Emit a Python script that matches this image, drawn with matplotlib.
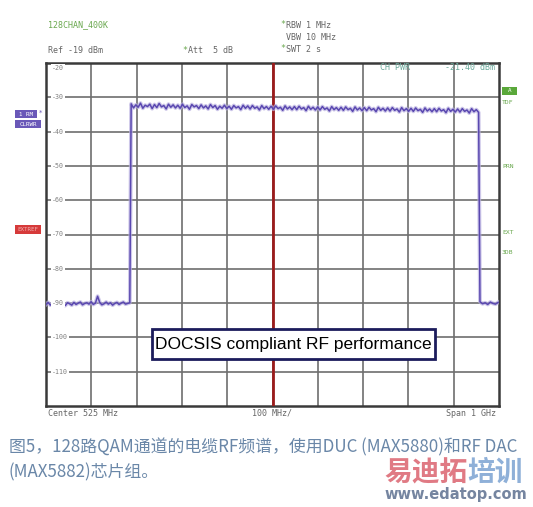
import numpy as np
import matplotlib
matplotlib.use("Agg")
import matplotlib.pyplot as plt
from matplotlib.patches import Rectangle

W, H = 533, 507

# ---- data (spectrum analyzer trace, dBm) ----
span_start_mhz, span_stop_mhz = 25, 1025
center_mhz = 525
y_min, y_max = -120, -20
y_tick_labels = [-20, -30, -40, -50, -60, -70, -80, -90, -100, -110]

lower_floor_range = (25, 210)
lower_floor_dbm = [-90.4, -89.8, -90.6, -90.1, -89.7, -90.5, -90.0, -89.6, -90.3, -90.7,
                   -89.9, -90.2, -90.6, -89.8, -90.4, -90.0, -89.7, -90.5, -90.1, -89.9,
                   -90.3, -89.6, -90.4, -90.0, -88.0, -89.8, -90.5, -90.2, -89.7, -90.3,
                   -89.9, -90.6, -90.1, -89.8, -90.4, -90.0, -89.7, -90.3, -90.1, -89.9]

plateau_range = (213, 980)
plateau_dbm = [
    -31.9, -33.1, -32.2, -32.9, -31.7, -33.2, -32.3, -32.7, -32.0, -33.3,
    -32.1, -33.0, -31.8, -32.8, -32.4, -33.4, -32.0, -32.9, -32.2, -33.1,
    -32.3, -33.2, -32.0, -33.0, -32.5, -33.5, -32.1, -32.8, -32.4, -33.3,
    -32.2, -33.1, -32.5, -33.4, -32.1, -33.0, -32.4, -33.5, -32.6, -33.2,
    -32.3, -33.3, -32.6, -33.5, -32.4, -33.1, -32.7, -33.6, -32.3, -33.2,
    -32.5, -33.4, -32.4, -33.2, -32.8, -33.7, -32.4, -33.3, -32.7, -33.5,
    -32.6, -33.5, -32.5, -33.3, -32.9, -33.8, -32.5, -33.4, -32.8, -33.6,
    -32.7, -33.6, -32.6, -33.4, -33.0, -33.9, -32.6, -33.5, -32.9, -33.7,
    -32.8, -33.7, -32.7, -33.5, -33.1, -34.0, -32.7, -33.6, -33.0, -33.8,
    -32.9, -33.8, -32.8, -33.6, -33.2, -34.1, -32.8, -33.7, -33.1, -33.9,
    -33.0, -33.9, -32.9, -33.7, -33.3, -34.2, -32.9, -33.8, -33.2, -34.0,
    -33.1, -34.0, -33.0, -33.8, -33.4, -34.3, -33.0, -33.9, -33.3, -34.1,
    -33.2, -34.1, -33.1, -33.9, -33.5, -34.4, -33.1, -34.0, -33.4, -34.2,
    -33.3, -34.2, -33.2, -34.0, -33.6, -34.5, -33.2, -34.1, -33.5, -34.3,
    -33.4, -34.3, -33.3, -34.1, -33.7, -34.6, -33.3, -34.2, -33.6, -34.4]

upper_floor_range = (983, 1023)
upper_floor_dbm = [-89.6, -90.2, -89.9, -90.4, -89.7, -90.1, -90.3, -89.8]

# ---- assemble trace ----
freq = np.concatenate([
    np.linspace(*lower_floor_range, len(lower_floor_dbm)),
    np.linspace(*plateau_range, len(plateau_dbm)),
    np.linspace(*upper_floor_range, len(upper_floor_dbm))])
level = np.concatenate([lower_floor_dbm, plateau_dbm, upper_floor_dbm])

fig = plt.figure(figsize=(W / 100, H / 100), dpi=100)
fig.patch.set_facecolor("white")

L, R, T, B = 46, 499, 63, 406
ax = fig.add_axes([L / W, 1 - B / H, (R - L) / W, (B - T) / H])
ax.set_xlim(span_start_mhz, span_stop_mhz)
ax.set_ylim(y_min, y_max)
ax.set_xticks(np.arange(span_start_mhz + 100, span_stop_mhz, 100))
ax.set_yticks(y_tick_labels[1:])
ax.tick_params(length=0, labelleft=False, labelbottom=False)
ax.grid(True, color="#6e6e6e", linewidth=1.2)
for s in ax.spines.values():
    s.set_color("#3a3a3a")
    s.set_linewidth(1.8)
ax.axvline(center_mhz, color="#9b1b1b", linewidth=2.0, zorder=3)

# trace with a faint halo
ax.plot(freq, level, color="#b9b0e0", linewidth=2.8, zorder=4, alpha=0.7)
ax.plot(freq, level, color="#5a48b0", linewidth=1.1, zorder=5)

# inside y labels
for v in y_tick_labels:
    va = "top" if v == y_max else "center"
    yy = v - 0.6 if v == y_max else v
    ax.text(0.013, yy, str(v), transform=ax.get_yaxis_transform(),
            fontsize=4.8, color="#808080", family="DejaVu Sans Mono", va=va, ha="left",
            bbox=dict(facecolor="white", edgecolor="none", pad=0.6), zorder=6)


def ftext(x, y, s, **kw):
    fig.text(x / W, 1 - y / H, s, **kw)


mono = dict(family="DejaVu Sans Mono", fontsize=6.0, va="center")
ftext(48, 25, "128CHAN_400K", color="#6aa84f", **mono)
ftext(48, 50, "Ref -19 dBm", color="#666666", **mono)
ftext(182, 50, "*", color="#6aa84f", **mono)
ftext(188, 50, "Att  5 dB", color="#666666", **mono)
ftext(280, 25, "*", color="#6aa84f", **mono)
ftext(286, 25, "RBW 1 MHz", color="#666666", **mono)
ftext(286, 37, "VBW 10 MHz", color="#666666", **mono)
ftext(280, 49, "*", color="#6aa84f", **mono)
ftext(286, 49, "SWT 2 s", color="#666666", **mono)
ftext(380, 67, "CH PWR", color="#6aa89a", **mono)
ftext(495, 67, "-21.40 dBm", color="#6aa89a", ha="right", **mono)
ftext(48, 414, "Center 525 MHz", color="#666666", **mono)
ftext(272, 413, "100 MHz/", color="#666666", ha="center", **mono)
ftext(496, 413, "Span 1 GHz", color="#666666", ha="right", **mono)


def fbox(x0, y0, x1, y1, color, label, tcolor="white"):
    fig.add_artist(Rectangle((x0 / W, 1 - y1 / H), (x1 - x0) / W, (y1 - y0) / H,
                             transform=fig.transFigure, facecolor=color, edgecolor="none"))
    fig.text((x0 + x1) / 2 / W, 1 - (y0 + y1) / 2 / H, label, fontsize=4.2,
             family="DejaVu Sans Mono", color=tcolor, ha="center", va="center")


fbox(15, 110, 37, 118, "#6a58b8", "1 RM")
ftext(39, 113, "*", color="#6a58b8", fontsize=5, va="center")
fbox(15, 120, 41, 128, "#6a58b8", "CLRWR")
fbox(15, 225, 41, 234, "#d63a3a", "EXTREF", tcolor="#f3b0b0")
fbox(502, 87, 517, 95, "#5aa83a", "A")
gmono = dict(family="DejaVu Sans Mono", fontsize=4.6, color="#6aa84f", va="center")
ftext(502, 102, "TDF", **gmono)
ftext(502, 167, "PRN", **gmono)
ftext(502, 232, "EXT", **gmono)
ftext(502, 253, "3DB", **gmono)

# annotation box
bx0, by0, bx1, by1 = 152, 329, 435, 359
fig.add_artist(Rectangle((bx0 / W, 1 - by1 / H), (bx1 - bx0) / W, (by1 - by0) / H,
                         transform=fig.transFigure, facecolor="white",
                         edgecolor="#1c1c5c", linewidth=2.0, zorder=10))
fig.text((bx0 + bx1) / 2 / W, 1 - (by0 + by1) / 2 / H, "DOCSIS compliant RF performance",
         family="Liberation Sans", fontsize=12.5, color="black", ha="center", va="center",
         zorder=11)

# caption
cap = dict(family=["Noto Sans CJK SC", "DejaVu Sans"], fontsize=12.2, color="#6a87a8",
           va="center", ha="left")
ftext(9, 447, "图5，128路QAM通道的电缆RF频谱，使用DUC (MAX5880)和RF DAC", **cap)
ftext(9, 472, "(MAX5882)芯片组。", **cap)

# watermark
wm = dict(family=["Noto Sans CJK SC"], fontsize=20, fontweight="bold", va="center",
          ha="left")
ftext(384, 473, "易迪拓", color="#e07a84", **wm)
ftext(384 + 3 * 27.8, 473, "培训", color="#8fb0d8", **wm)
ftext(527, 494, "www.edatop.com", family="DejaVu Sans", fontweight="bold", fontsize=10.5,
      color="#7585a0", ha="right", va="center")

fig.savefig("out.png", dpi=100, facecolor="white")
